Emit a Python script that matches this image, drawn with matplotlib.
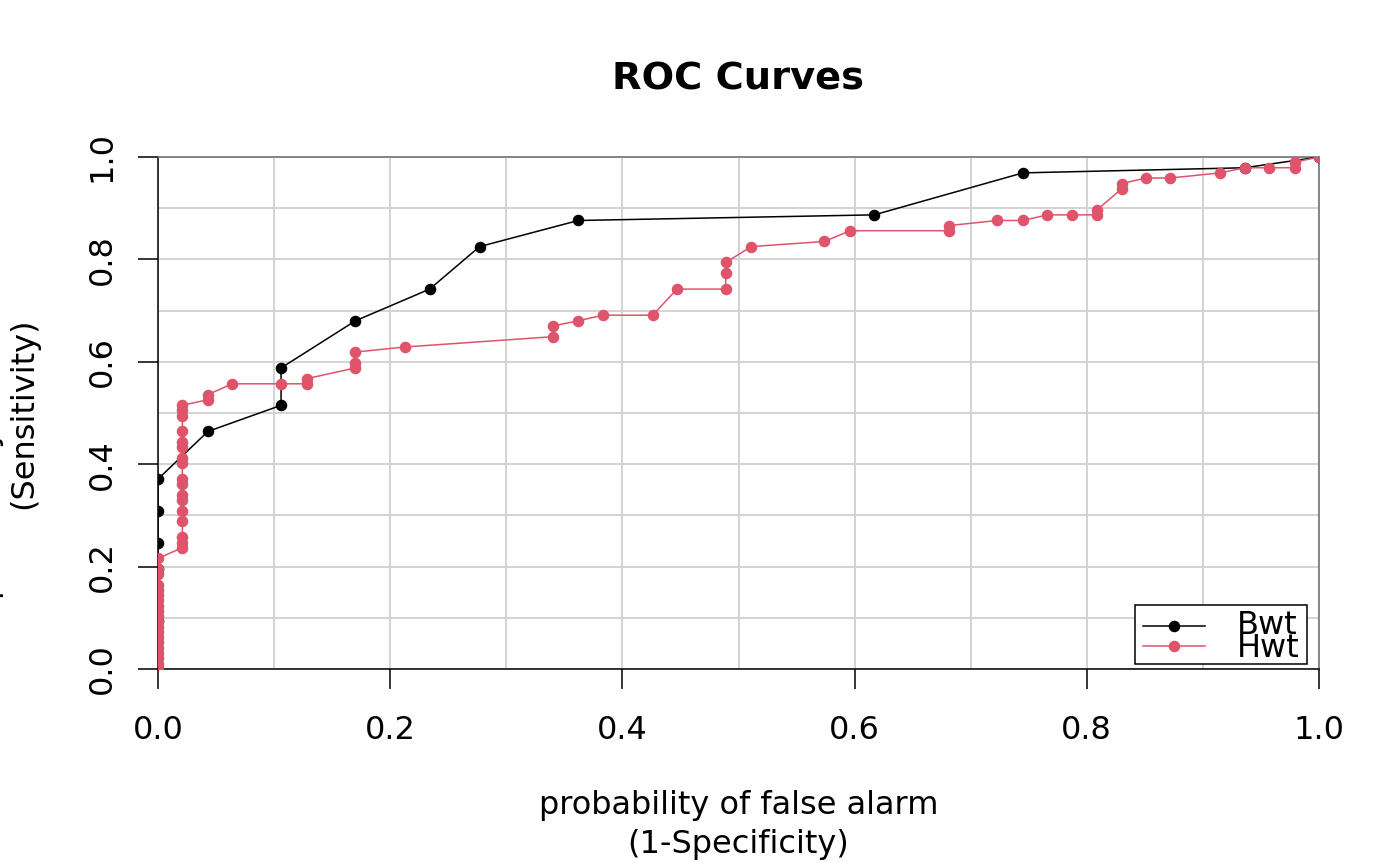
import numpy as np
import matplotlib
matplotlib.use("Agg")
import matplotlib.pyplot as plt
from matplotlib.patches import Rectangle
from matplotlib.lines import Line2D

# ---- data ----
series_names = ["Bwt", "Hwt"]
series_colors = ["black", "#DF536B"]

bwt_fpr = [0.0, 0.0, 0.0, 0.0, 0.0, 0.0, 0.043, 0.106, 0.106, 0.170, 0.234,
           0.277, 0.362, 0.617, 0.745, 0.936, 1.0]
bwt_tpr = [0.0, 0.093, 0.196, 0.247, 0.309, 0.371, 0.464, 0.515, 0.588, 0.680,
           0.742, 0.825, 0.876, 0.887, 0.969, 0.979, 1.0]

hwt_fpr = ([0.0] * 20 + [0.021] * 17 +
           [0.043, 0.043, 0.064, 0.106, 0.128, 0.128, 0.170, 0.170, 0.170, 0.213,
            0.340, 0.340, 0.362, 0.383, 0.426, 0.447, 0.489, 0.489, 0.489, 0.511,
            0.574, 0.596, 0.681, 0.681, 0.723, 0.745, 0.766, 0.787, 0.809, 0.809,
            0.830, 0.830, 0.851, 0.872, 0.915, 0.936, 0.957, 0.979, 0.979, 1.0])
hwt_tpr = ([0.0, 0.010, 0.021, 0.031, 0.041, 0.052, 0.062, 0.072, 0.082, 0.093,
            0.103, 0.113, 0.124, 0.134, 0.144, 0.155, 0.165, 0.186, 0.196, 0.216] +
           [0.237, 0.247, 0.258, 0.289, 0.309, 0.330, 0.340, 0.361, 0.371, 0.402,
            0.412, 0.433, 0.443, 0.464, 0.495, 0.505, 0.515] +
           [0.526, 0.536, 0.557, 0.557, 0.557, 0.567, 0.588, 0.598, 0.619, 0.629,
            0.649, 0.670, 0.680, 0.691, 0.691, 0.742, 0.742, 0.773, 0.794, 0.825,
            0.835, 0.856, 0.856, 0.866, 0.876, 0.876, 0.887, 0.887, 0.887, 0.897,
            0.938, 0.948, 0.959, 0.959, 0.969, 0.979, 0.979, 0.979, 0.990, 1.0])

tick_values = [0.0, 0.2, 0.4, 0.6, 0.8, 1.0]
tick_labels = ["0.0", "0.2", "0.4", "0.6", "0.8", "1.0"]
grid_values = [i / 10 for i in range(11)]

title_text = "ROC Curves"
xlabel_text = "probability of false alarm\n(1-Specificity)"
ylabel_text = "probability of detection\n(Sensitivity)"

# ---- figure ----
W, H = 1400, 866
fig = plt.figure(figsize=(W / 100, H / 100), dpi=100)
plt.rcParams["font.family"] = ["DejaVu Sans"]
FS = 23

L, R, T, B = 158, 1319, 157, 669
ax = fig.add_axes([L / W, 1 - B / H, (R - L) / W, (B - T) / H])
ax.set_xlim(0, 1)
ax.set_ylim(0, 1)

# grid
ax.set_xticks(grid_values, minor=True)
ax.set_yticks(grid_values, minor=True)
ax.grid(True, which="both", color="#D3D3D3", linewidth=1.4, zorder=0)
ax.set_axisbelow(True)

ax.set_xticks(tick_values)
ax.set_xticklabels(tick_labels)
ax.set_yticks(tick_values)
ax.set_yticklabels(tick_labels, rotation=90, va="center")
ax.tick_params(which="minor", length=0)
ax.tick_params(which="major", direction="out", length=14.4, width=1.1,
               labelsize=FS, color="black")
ax.tick_params(axis="x", pad=19)
ax.tick_params(axis="y", pad=14.5)

for side in ["left", "bottom"]:
    ax.spines[side].set_color("black")
    ax.spines[side].set_linewidth(1.1)
for side in ["top", "right"]:
    ax.spines[side].set_color("#6a6a6a")
    ax.spines[side].set_linewidth(1.1)

ms = 7.3
ax.plot(bwt_fpr, bwt_tpr, color=series_colors[0], marker="o", markersize=ms,
        linewidth=1.1, zorder=3)
ax.plot(hwt_fpr, hwt_tpr, color=series_colors[1], marker="o", markersize=ms,
        linewidth=1.1, zorder=4)

# legend (drawn in R style: overlapping rows, tight box)
def ax_x(px):
    return (px - L) / (R - L)

def ax_y(py):
    return (B - py) / (B - T)

box = Rectangle((ax_x(1135), ax_y(664)), ax_x(1307) - ax_x(1135),
                ax_y(605) - ax_y(664), transform=ax.transAxes,
                facecolor="white", edgecolor="black", linewidth=1.1, zorder=6)
ax.add_patch(box)
row_marker_y = [625.7, 645.7]
row_text_y = [634, 657]
for name, col, my, ty in zip(series_names, series_colors, row_marker_y, row_text_y):
    ax.add_line(Line2D([ax_x(1143), ax_x(1205)], [ax_y(my), ax_y(my)],
                       transform=ax.transAxes, color=col, linewidth=1.1, zorder=7))
    ax.add_line(Line2D([ax_x(1174)], [ax_y(my)], transform=ax.transAxes,
                       color=col, marker="o", markersize=ms, linestyle="none",
                       zorder=7))
    ax.text(ax_x(1237), ax_y(ty), name, transform=ax.transAxes, ha="left",
            va="baseline", fontsize=FS, zorder=8)

# titles / labels
fig.text((L + R) / 2 / W, 1 - 80 / H, title_text, ha="center", va="center",
         fontsize=FS * 1.2, fontweight="bold")
fig.text((L + R) / 2 / W, 1 - 825 / H, xlabel_text, ha="center", va="center",
         fontsize=FS, multialignment="center", linespacing=1.3)
fig.text(6 / W, 1 - 413 / H, ylabel_text, ha="center", va="center",
         fontsize=FS, rotation=90, multialignment="center", linespacing=1.2)

fig.savefig("out.png", dpi=100, facecolor="white")
